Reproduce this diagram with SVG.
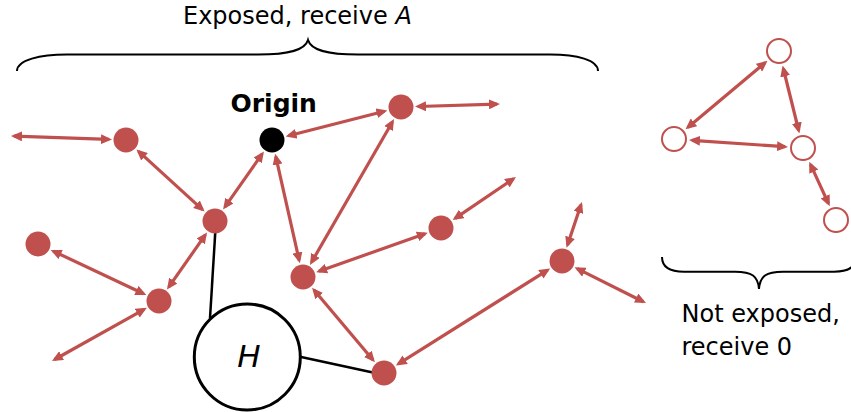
<svg xmlns="http://www.w3.org/2000/svg" width="851" height="412" viewBox="0 0 851 412">
<defs>
<marker id="ah" viewBox="0 0 11 10" refX="8" refY="5" markerWidth="11" markerHeight="10" markerUnits="userSpaceOnUse" orient="auto-start-reverse">
<path d="M0,0 L11,5 L0,10 z" fill="#C0504D"/>
</marker>
<style>
.e{stroke:#C0504D;stroke-width:3.2;fill:none;marker-start:url(#ah);marker-end:url(#ah)}
.k{stroke:#000;stroke-width:2.5;fill:none}
.n{fill:#C0504D}
.o{fill:#fff;stroke:#C0504D;stroke-width:2}
.t{font-family:"DejaVu Sans",Verdana,sans-serif;font-size:24px;fill:#000}
.br{stroke:#000;stroke-width:2;fill:none}
</style>
</defs>
<g id="labels">
<text class="t" x="183" y="24">Exposed, receive <tspan font-style="italic">A</tspan></text>
<text class="t" x="681.5" y="321.5">Not exposed,</text>
<text class="t" x="681.5" y="355">receive 0</text>
<path class="br" d="M17,71 C17,60 40,54.5 67,54.5 L258,54.5 C290,54.5 305,50 308,40 C311,50 326,54.5 358,54.5 L550,54.5 C577,54.5 598,60 598,71"/>
<path class="br" d="M662,257 C662,266 668,271.7 684,271.7 L735,271.7 C752,271.7 758,276 759,289 C760,276 766,271.7 783,271.7 L834,271.7 C850,271.7 856,266 856,257"/>
</g>
<g id="connectors">
<line class="k" x1="215.3" y1="231.7" x2="210" y2="318.3"/>
<line class="k" x1="300" y1="356.7" x2="374" y2="372.7"/>
<line class="e" x1="14.0" y1="136.1" x2="109.0" y2="139.4"/>
<line class="e" x1="138.6" y1="151.4" x2="202.4" y2="209.6"/>
<line class="e" x1="224.8" y1="207.1" x2="262.2" y2="153.9"/>
<line class="e" x1="53.4" y1="251.2" x2="143.6" y2="293.8"/>
<line class="e" x1="168.7" y1="287.1" x2="205.3" y2="234.9"/>
<line class="e" x1="54.6" y1="359.5" x2="144.2" y2="309.3"/>
<line class="e" x1="288.5" y1="135.8" x2="384.5" y2="111.2"/>
<line class="e" x1="275.8" y1="156.6" x2="299.2" y2="260.4"/>
<line class="e" x1="392.5" y1="121.7" x2="311.5" y2="262.3"/>
<line class="e" x1="418.0" y1="106.5" x2="497.0" y2="104.1"/>
<line class="e" x1="425.0" y1="233.7" x2="319.0" y2="271.3"/>
<line class="e" x1="455.1" y1="218.4" x2="513.5" y2="178.7"/>
<line class="e" x1="314.0" y1="290.0" x2="373.0" y2="360.0"/>
<line class="e" x1="398.4" y1="363.9" x2="547.6" y2="270.1"/>
<line class="e" x1="567.5" y1="244.9" x2="581.0" y2="204.8"/>
<line class="e" x1="577.2" y1="268.6" x2="643.3" y2="301.7"/>
<line class="e" x1="765.2" y1="62.6" x2="687.8" y2="127.4"/>
<line class="e" x1="783.3" y1="68.5" x2="798.7" y2="130.5"/>
<line class="e" x1="692.0" y1="140.3" x2="785.0" y2="146.7"/>
<line class="e" x1="810.5" y1="164.4" x2="828.5" y2="203.6"/>
</g>
<g id="nodeA"><circle class="n" cx="126" cy="140" r="12.5"/></g>
<g id="origin"><circle cx="272" cy="140" r="12.5" fill="#000"/><text x="230.5" y="111.7" font-family="'DejaVu Sans',Verdana,sans-serif" font-size="25" font-weight="bold">Origin</text></g>
<g id="nodeB"><circle class="n" cx="215" cy="221" r="12.5"/></g>
<g id="nodeC"><circle class="n" cx="38" cy="244" r="12.5"/></g>
<g id="nodeD"><circle class="n" cx="159" cy="301" r="12.5"/></g>
<g id="nodeE"><circle class="n" cx="303" cy="277" r="12.5"/></g>
<g id="nodeF"><circle class="n" cx="384" cy="373" r="12.5"/></g>
<g id="nodeG"><circle class="n" cx="401" cy="107" r="12.5"/></g>
<g id="nodeI"><circle class="n" cx="441" cy="228" r="12.5"/></g>
<g id="nodeJ"><circle class="n" cx="562" cy="261" r="12.5"/></g>
<g id="nodeH"><circle cx="247.3" cy="357" r="53" fill="#fff" stroke="#000" stroke-width="3"/><text x="249" y="366.7" text-anchor="middle" font-family="'DejaVu Sans',Verdana,sans-serif" font-size="31" font-style="italic">H</text></g>
<g id="nodeK"><circle class="o" cx="779" cy="51" r="12"/></g>
<g id="nodeL"><circle class="o" cx="674" cy="139" r="12"/></g>
<g id="nodeM"><circle class="o" cx="803" cy="148" r="12"/></g>
<g id="nodeN"><circle class="o" cx="836" cy="220" r="12"/></g>
</svg>
